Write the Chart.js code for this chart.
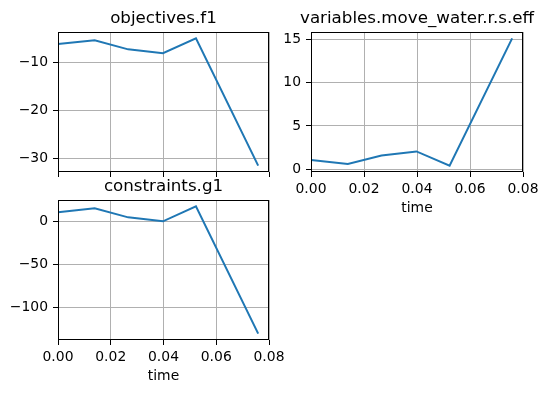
<!DOCTYPE html>
<html>
<head>
<meta charset="utf-8">
<script src="https://cdn.jsdelivr.net/npm/chart.js@4"></script>
<style>
  html, body { margin: 0; padding: 0; background: #fff; }
  #fig { position: relative; width: 548px; height: 393px; }
  #fig canvas { position: absolute; left: 0; top: 0; }
</style>
</head>
<body>
<div id="fig">
  <canvas id="c-f1" width="548" height="393"></canvas>
  <canvas id="c-eff" width="548" height="393"></canvas>
  <canvas id="c-g1" width="548" height="393"></canvas>
</div>
<script>
// data
const time = [0, 0.0139, 0.0266, 0.0398, 0.0523, 0.0759];
const f1 = [-6.1, -5.3, -7.2, -8.0, -4.9, -31.5];
const eff = [1.08, 0.62, 1.6, 2.07, 0.43, 15.1];
const g1 = [10.8, 15.5, 5.0, 0.4, 17.8, -130.6];

const xTicks = [0, 0.02, 0.04, 0.06, 0.08];
const f1Ticks = [-30, -20, -10];
const effTicks = [0, 5, 10, 15];
const g1Ticks = [-100, -50, 0];

Chart.defaults.font.family = '"DejaVu Sans", sans-serif';
Chart.defaults.color = '#000';

const TICK_FONT = { size: 13.9, lineHeight: 1.2 };

// matplotlib-like axes frame, title centred over the axes box
const frame = {
  id: 'frame',
  afterLayout(chart) {
    const tb = chart.titleBlock, a = chart.chartArea;
    if (tb) {
      const cx = (a.left + a.right) / 2;
      tb.left = cx - 300; tb.right = cx + 300; tb.width = 600;
    }
  },
  afterDatasetsDraw(chart) {
    const a = chart.chartArea, ctx = chart.ctx;
    ctx.save();
    ctx.strokeStyle = '#000';
    ctx.lineWidth = 1;
    ctx.strokeRect(Math.round(a.left) + 0.5, Math.round(a.top) + 0.5,
      Math.round(a.right - a.left) - 1, Math.round(a.bottom - a.top) - 1);
    ctx.restore();
  }
};

const fmtMinus = v => String(v).replace('-', '\u2212');

function makeChart(id, title, ys, yTicks, box, showX) {
  const pts = time.map((t, i) => ({ x: t, y: ys[i] }));
  const lo = Math.min(...ys), hi = Math.max(...ys), m = (hi - lo) * 0.05;
  const xH = 45, yW = 50, titleH = 16.7 * 1.2 + 3.8;
  return new Chart(document.getElementById(id), {
    type: 'line',
    data: { datasets: [{ data: pts, borderColor: '#1f77b4', borderWidth: 2, pointRadius: 0, tension: 0, fill: false }] },
    plugins: [frame],
    options: {
      responsive: false,
      animation: false,
      events: [],
      layout: {
        padding: {
          left: box.l - yW,
          right: 548 - box.r,
          top: box.t - titleH,
          bottom: 393 - box.b - xH
        }
      },
      plugins: {
        legend: { display: false },
        tooltip: { enabled: false },
        title: {
          display: true, text: title, color: '#000',
          font: { size: 16.7, weight: 'normal', lineHeight: 1.2 },
          padding: { top: 0, bottom: 3.8 }
        }
      },
      scales: {
        x: {
          type: 'linear', min: 0, max: 0.08,
          afterBuildTicks: s => { s.ticks = xTicks.map(v => ({ value: v })); },
          afterFit: s => { s.height = xH; },
          border: { display: false },
          grid: { color: '#b0b0b0', lineWidth: 1, tickColor: '#000', tickLength: 5 },
          ticks: {
            font: TICK_FONT, padding: 4, maxRotation: 0,
            color: showX ? '#000' : 'rgba(0,0,0,0)',
            callback: v => v.toFixed(2)
          },
          title: { display: showX, text: 'time', font: TICK_FONT, padding: 0 }
        },
        y: {
          type: 'linear', min: lo - m, max: hi + m,
          afterBuildTicks: s => { s.ticks = yTicks.map(v => ({ value: v })); },
          afterFit: s => { s.width = yW; },
          border: { display: false },
          grid: { color: '#b0b0b0', lineWidth: 1, tickColor: '#000', tickLength: 5 },
          ticks: { font: TICK_FONT, padding: 5, callback: v => fmtMinus(v) }
        }
      }
    }
  });
}

makeChart('c-f1', 'objectives.f1', f1, f1Ticks, { l: 58, r: 269, t: 32, b: 172 }, false);
makeChart('c-eff', 'variables.move_water.r.s.eff', eff, effTicks, { l: 311, r: 523, t: 32, b: 172 }, true);
makeChart('c-g1', 'constraints.g1', g1, g1Ticks, { l: 58, r: 269, t: 200, b: 340 }, true);
</script>
</body>
</html>
